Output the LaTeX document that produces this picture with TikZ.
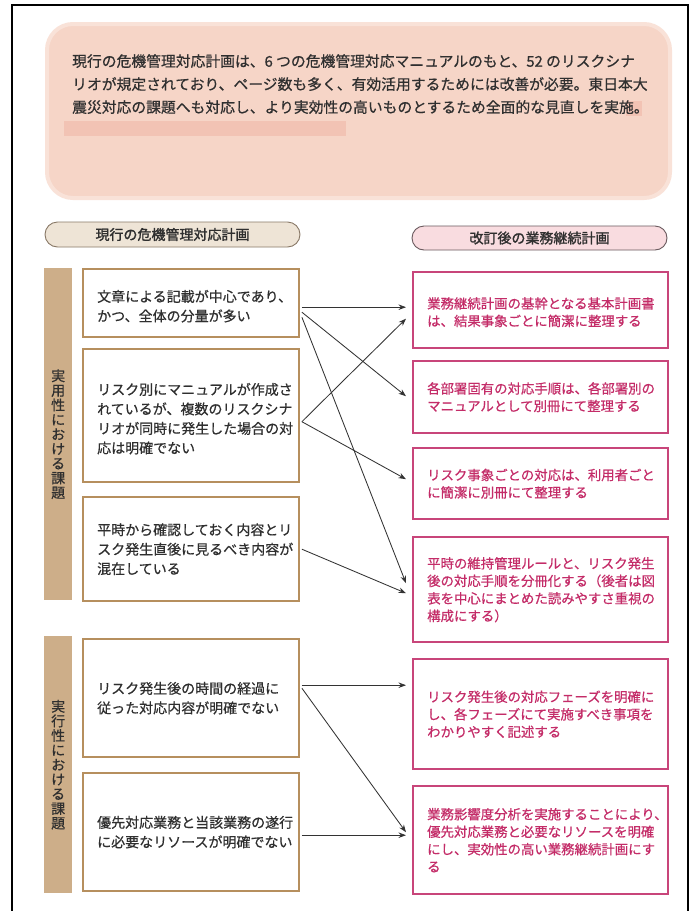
\documentclass[tikz,border=0pt]{standalone}
\usepackage{fontspec}
\setmainfont{Noto Sans CJK JP}[FakeBold=0.6]
\usetikzlibrary{arrows.meta,calc}
\definecolor{introfill}{HTML}{F6D5C7}
\definecolor{introedge}{HTML}{F9E2D8}
\definecolor{hlcol}{HTML}{F2C3B4}
\definecolor{tanbar}{HTML}{CDAE89}
\definecolor{lborder}{HTML}{B68F5E}
\definecolor{rborder}{HTML}{C8457A}
\definecolor{rtextc}{HTML}{C42C68}
\definecolor{ltextc}{HTML}{2F2F2F}
\definecolor{pillAfill}{HTML}{EEE4D6}
\definecolor{pillAdraw}{HTML}{8A7A68}
\definecolor{pillBfill}{HTML}{F9DCE0}
\definecolor{pillBdraw}{HTML}{6A5A5E}
\definecolor{conncol}{HTML}{333333}
\tikzset{
  introbox/.style={fill=introfill, draw=introedge, line width=4pt, rounded corners=26pt, inner sep=0pt, anchor=north west},
  introtext/.style={anchor=north west, align=left, inner sep=0pt, text=ltextc, font=\fontsize{14.8}{23}\selectfont},
  lbox/.style={draw=lborder, line width=2.4pt, fill=white, inner sep=0pt, anchor=north west, minimum width=216pt},
  rbox/.style={draw=rborder, line width=2.4pt, fill=white, inner sep=0pt, anchor=north west, minimum width=255pt},
  ltext/.style={anchor=west, align=left, inner sep=0pt, text=ltextc, font=\fontsize{14}{19.5}\selectfont},
  rtext/.style={anchor=west, align=left, inner sep=0pt, text=rtextc, font=\fontsize{13.4}{17.5}\selectfont},
  sidebar/.style={fill=tanbar, inner sep=0pt, anchor=north west, minimum width=28pt},
  sidetext/.style={align=center, inner sep=0pt, text=ltextc, font=\fontsize{14}{14.6}\selectfont},
  pillA/.style={draw=pillAdraw, line width=0.9pt, fill=pillAfill, rounded corners=12.5pt, minimum width=255pt, minimum height=25pt, inner sep=0pt, font=\fontsize{14}{16}\selectfont, text=ltextc},
  pillB/.style={draw=pillBdraw, line width=0.9pt, fill=pillBfill, rounded corners=12pt, minimum width=255pt, minimum height=24pt, inner sep=0pt, font=\fontsize{14}{16}\selectfont, text=ltextc},
  conn/.style={draw=conncol, line width=0.85pt, -{Stealth[length=7.5pt,width=5.5pt]}}
}
\begin{document}
\begin{tikzpicture}[x=1pt,y=-1pt]
\useasboundingbox (0,0) rectangle (690,911);
\fill[white] (0,0) rectangle (690,911);
\draw[line width=1.6pt] (12,930) -- (12,5) -- (688,5) -- (688,930);

% intro box
\node[introbox, minimum width=623pt, minimum height=174pt] (intro) at (45,22) {};
\fill[hlcol] (64,121) rectangle (346,136);
\fill[hlcol] (626,101) rectangle (642,116);
\node[introtext] (introtxt) at ([xshift=27pt,yshift=-32pt]intro.north west)
  {現行の危機管理対応計画は、6 つの危機管理対応マニュアルのもと、52 のリスクシナ\\
   リオが規定されており、ページ数も多く、有効活用するためには改善が必要。東日本大\\
   震災対応の課題へも対応し、より実効性の高いものとするため全面的な見直しを実施。};

% headers
\node[pillA] (hA) at (172.5,234.5) {\addfontfeatures{FakeBold=1.6}現行の危機管理対応計画};
\node[pillB] (hB) at (539.5,238) {\addfontfeatures{FakeBold=1.6}改訂後の業務継続計画};

% side bars
\node[sidebar, minimum height=332pt] (s1) at (44,268) {};
\node[sidetext] (s1t) at (s1.center) {実\\用\\性\\に\\お\\け\\る\\課\\題};
\node[sidebar, minimum height=257pt] (s2) at (44,636) {};
\node[sidetext] (s2t) at (s2.center) {実\\行\\性\\に\\お\\け\\る\\課\\題};

% left boxes
\node[lbox, minimum height=68pt] (L1) at (82,268) {};
\node[lbox, minimum height=133pt] (L2) at (82,348) {};
\node[lbox, minimum height=104pt] (L3) at (82,496) {};
\node[lbox, minimum height=118pt] (L4) at (82,638) {};
\node[lbox, minimum height=118pt] (L5) at (82,772) {};
\node[ltext] (L1t) at ([xshift=15pt,yshift=-3pt]L1.west) {文章による記載が中心であり、\\かつ、全体の分量が多い};
\node[ltext] (L2t) at ([xshift=15pt,yshift=-3pt]L2.west) {リスク別にマニュアルが作成さ\\れているが、複数のリスクシナ\\リオが同時に発生した場合の対\\応は明確でない};
\node[ltext] (L3t) at ([xshift=15pt]L3.west) {平時から確認しておく内容とリ\\スク発生直後に見るべき内容が\\混在している};
\node[ltext] (L4t) at ([xshift=15pt]L4.west) {リスク発生後の時間の経過に\\従った対応内容が明確でない};
\node[ltext] (L5t) at ([xshift=15pt]L5.west) {優先対応業務と当該業務の遂行\\に必要なリソースが明確でない};

% right boxes
\node[rbox, minimum height=76pt] (R1) at (412,271) {};
\node[rbox, minimum height=72pt] (R2) at (412,360) {};
\node[rbox, minimum height=71pt] (R3) at (412,447) {};
\node[rbox, minimum height=105pt] (R4) at (412,536) {};
\node[rbox, minimum height=110pt] (R5) at (412,658) {};
\node[rbox, minimum height=108pt] (R6) at (412,785) {};
\node[rtext] (R1t) at ([xshift=15pt,yshift=-2pt]R1.west) {業務継続計画の基幹となる基本計画書\\は、結果事象ごとに簡潔に整理する};
\node[rtext] (R2t) at ([xshift=15pt]R2.west) {各部署固有の対応手順は、各部署別の\\マニュアルとして別冊にて整理する};
\node[rtext] (R3t) at ([xshift=15pt]R3.west) {リスク事象ごとの対応は、利用者ごと\\に簡潔に別冊にて整理する};
\node[rtext] (R4t) at ([xshift=15pt]R4.west) {平時の維持管理ルールと、リスク発生\\後の対応手順を分冊化する（後者は図\\表を中心にまとめた読みやすさ重視の\\構成にする）};
\node[rtext] (R5t) at ([xshift=15pt]R5.west) {リスク発生後の対応フェーズを明確に\\し、各フェーズにて実施すべき事項を\\わかりやすく記述する};
\node[rtext] (R6t) at ([xshift=15pt]R6.west) {業務影響度分析を実施することにより、\\優先対応業務と必要なリソースを明確\\にし、実効性の高い業務継続計画にす\\る};

% connectors
\draw[conn] ([xshift=1.5pt,yshift=-4pt]L1.east) -- ([xshift=-6pt,yshift=3pt]R1.west);
\draw[conn] ([xshift=1.5pt,yshift=-9pt]L1.east) -- ([xshift=-6pt,yshift=1pt]R2.west);
\draw[conn] ([xshift=1.5pt,yshift=-14pt]L1.east) -- ([xshift=-6pt,yshift=6.5pt]R4.west);
\draw[conn] ([xshift=1.5pt,yshift=-6pt]L2.east) -- ([xshift=-6pt,yshift=-8.5pt]R1.west);
\draw[conn] ([xshift=1.5pt,yshift=-6pt]L2.east) -- ([xshift=-6pt,yshift=4.5pt]R3.west);
\draw[conn] ([xshift=1.5pt,yshift=0pt]L3.east) -- ([xshift=-6pt,yshift=-3.5pt]R4.west);
\draw[conn] ([xshift=1.5pt,yshift=13pt]L4.east) -- ([xshift=-6pt,yshift=29pt]R5.west);
\draw[conn] ([xshift=1.5pt,yshift=10pt]L4.east) -- ([xshift=-6pt,yshift=8pt]R6.west);
\draw[conn] ([xshift=1.5pt,yshift=-3pt]L5.east) -- ([xshift=-6pt,yshift=5pt]R6.west);
\end{tikzpicture}
\end{document}
